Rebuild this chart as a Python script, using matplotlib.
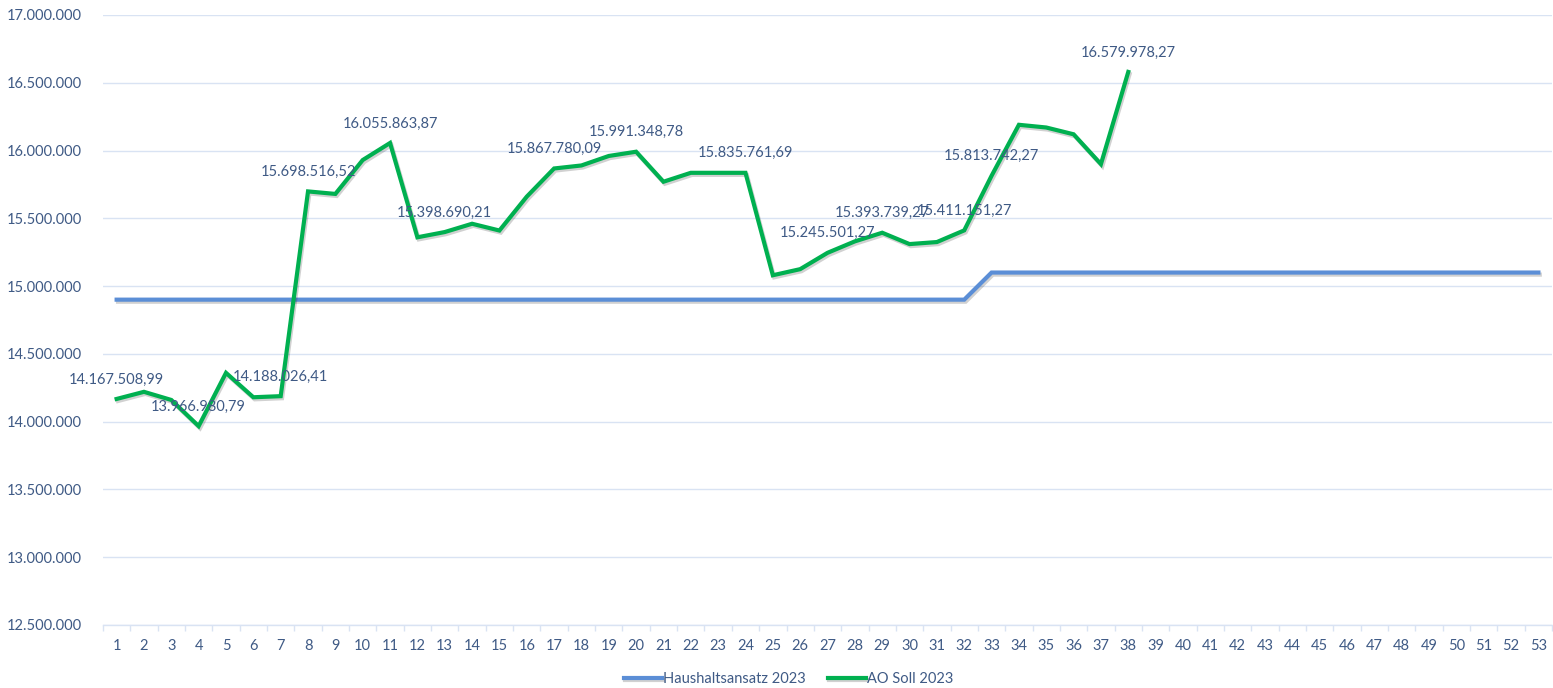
import matplotlib.pyplot as plt
import matplotlib.patheffects as pe
from matplotlib.ticker import FuncFormatter, MultipleLocator

plt.rcParams["font.family"] = ["Lato", "DejaVu Sans"]

TEXT = "#3F5A85"
GRID = "#D9E3F3"
BLUE = "#5B8ED6"
GREEN = "#00B050"

# ── Daten ────────────────────────────────────────────────────────────────────
weeks = list(range(1, 54))

haushalt = [14_900_000] * 32 + [15_100_000] * 21

ao_weeks = list(range(1, 39))
ao_soll = [
    14_167_508.99, 14_220_000, 14_160_000, 13_966_980.79, 14_360_000,
    14_180_000, 14_188_026.41, 15_698_516.52, 15_680_000, 15_930_000,
    16_055_863.87, 15_360_000, 15_398_690.21, 15_460_000, 15_410_000,
    15_660_000, 15_867_780.09, 15_890_000, 15_960_000, 15_991_348.78,
    15_770_000, 15_835_761.69, 15_835_761.69, 15_835_761.69, 15_080_000,
    15_125_000, 15_245_501.27, 15_330_000, 15_393_739.27, 15_310_000,
    15_325_000, 15_411_151.27, 15_813_742.27, 16_190_000, 16_170_000,
    16_120_000, 15_900_000, 16_579_978.27,
]

# Wochen mit Datenbeschriftung
label_weeks = [1, 4, 7, 8, 11, 13, 17, 20, 24, 27, 29, 32, 33, 38]


def de_num(v, decimals=0):
    s = f"{v:,.{decimals}f}"
    return s.replace(",", "X").replace(".", ",").replace("X", ".")


fig = plt.figure(figsize=(15.53, 6.88), dpi=100)
ax = fig.add_axes([0.0663, 0.0916, 0.9331, 0.8866])

shadow = [pe.SimpleLineShadow(offset=(1, -1.5), alpha=0.18, shadow_color="black"),
          pe.Normal()]

ax.plot(weeks, haushalt, color=BLUE, linewidth=3.0, label="Haushaltsansatz 2023",
        solid_joinstyle="miter", path_effects=shadow, zorder=3)
ax.plot(ao_weeks, ao_soll, color=GREEN, linewidth=3.0, label="AO Soll 2023",
        solid_joinstyle="miter", path_effects=shadow, zorder=4)

for w in label_weeks:
    v = ao_soll[w - 1]
    ax.annotate(de_num(v, 2), xy=(w, v), xytext=(0, 9), textcoords="offset points",
                ha="center", va="bottom", fontsize=10.5, color=TEXT, zorder=5)

ax.set_xlim(0.5, 53.5)
ax.set_ylim(12_500_000, 17_000_000)
ax.yaxis.set_major_locator(MultipleLocator(500_000))
ax.yaxis.set_major_formatter(FuncFormatter(lambda v, p: de_num(v)))
ax.set_xticks(weeks)
ax.set_xticks([w + 0.5 for w in [0] + weeks], minor=True)

ax.grid(axis="y", color=GRID, linewidth=1.0, zorder=0)
ax.set_axisbelow(True)
for side in ["top", "right", "left"]:
    ax.spines[side].set_visible(False)
ax.spines["bottom"].set_color(GRID)
ax.spines["bottom"].set_linewidth(1.0)

ax.tick_params(axis="y", length=0, pad=15, labelsize=10.5, labelcolor=TEXT)
ax.tick_params(axis="x", which="major", length=0, pad=10, labelsize=10.5, labelcolor=TEXT)
ax.tick_params(axis="x", which="minor", length=4, color=GRID, width=1.0)

leg = fig.legend(loc="center", bbox_to_anchor=(0.508, 0.013), ncol=2, frameon=False,
                 fontsize=10.5, handlelength=2.6, columnspacing=1.5, handletextpad=0.1)
for t in leg.get_texts():
    t.set_color(TEXT)

plt.savefig("out.png", dpi=100)
